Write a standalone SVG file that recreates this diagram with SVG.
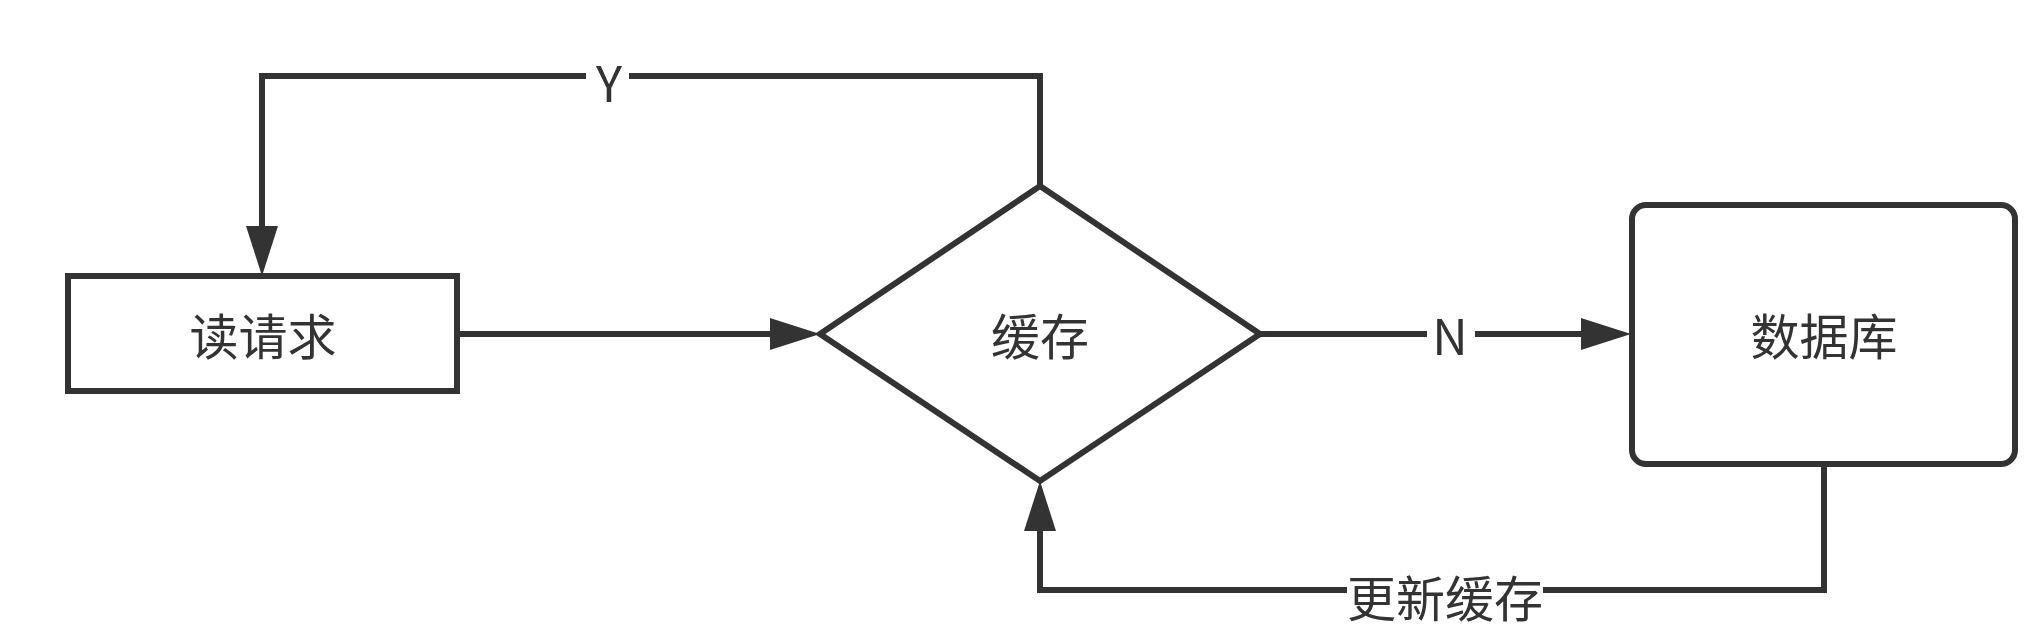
<svg xmlns="http://www.w3.org/2000/svg" width="2044" height="642" viewBox="0 0 2044 642">
<style>
.shape{fill:#fff;stroke:#333;stroke-width:6}
.edge{fill:none;stroke:#333;stroke-width:6}
.t{font-family:"Noto Sans CJK SC","Noto Sans",sans-serif;font-size:49px;fill:#333;text-anchor:middle;dominant-baseline:central}
.bg{fill:#fff}
</style>
<defs>
<marker id="ah" viewBox="0 0 50 32" refX="10" refY="16" markerWidth="50" markerHeight="32" markerUnits="userSpaceOnUse" orient="auto">
<path d="M0,0 L50,16 L0,32 Z" fill="#333"/>
</marker>
</defs>
<g id="edges">
<path class="edge" d="M1040,186 L1040,76 L262,76 L262,236" marker-end="url(#ah)"/>
<path class="edge" d="M457,334 L780,334" marker-end="url(#ah)"/>
<path class="edge" d="M1260,334 L1591,334" marker-end="url(#ah)"/>
<path class="edge" d="M1824,464 L1824,590 L1040,590 L1040,521" marker-end="url(#ah)"/>
<rect class="bg" x="586" y="60" width="43" height="40"/>
<text class="t" x="609" y="80">Y</text>
<rect class="bg" x="1427" y="314" width="48" height="40"/>
<text class="t" x="1450" y="333">N</text>
<rect class="bg" x="1347" y="570" width="196" height="44"/>
<text class="t" x="1445" y="595">更新缓存</text>
</g>
<g id="read">
<rect class="shape" x="68" y="276" width="389" height="115"/>
<text class="t" x="263" y="333">读请求</text>
</g>
<g id="cache">
<path class="shape" d="M1040,186 L1260,334 L1040,481 L820,334 Z"/>
<text class="t" x="1040" y="333">缓存</text>
</g>
<g id="db">
<rect class="shape" x="1632" y="205" width="383" height="259" rx="14"/>
<text class="t" x="1824" y="333">数据库</text>
</g>
</svg>
